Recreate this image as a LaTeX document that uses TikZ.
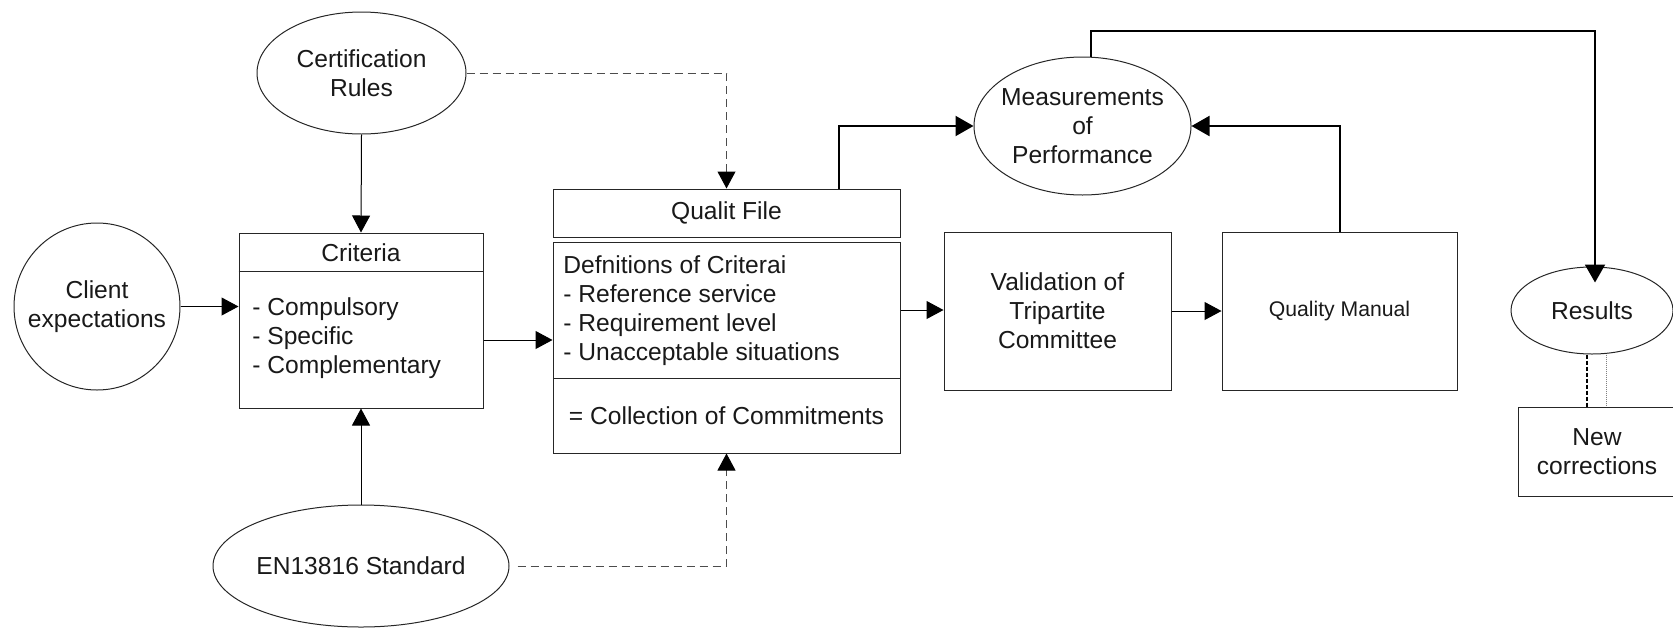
\documentclass[tikz,border=0pt]{standalone}
\usepackage{fontspec}
\setmainfont{Liberation Sans}
\usetikzlibrary{shapes.geometric,arrows.meta,calc}
\begin{document}
\begin{tikzpicture}[x=0.5pt,y=-0.5pt,
  font=\fontsize{12.3pt}{14.5pt}\selectfont,
  every node/.style={text=black!90},
  every label/.style={inner sep=0pt,align=center,text=black!90},
  oval/.style={draw=black!85,line width=0.5pt,ellipse,inner sep=0pt,align=center},
  box/.style={draw=black!85,line width=0.5pt,rectangle,inner sep=0pt,align=center},
  txt/.style={inner sep=0pt,align=left,anchor=west},
  arr/.style={line width=0.5pt,-{Triangle[length=8.5pt,width=9pt]}},
  thickarr/.style={line width=1pt,-{Triangle[length=9pt,width=10pt]}},
  dasharr/.style={line width=0.5pt,black!70,dash pattern=on 4pt off 2.5pt,-{Triangle[length=8.5pt,width=9pt,color=black,fill=black]}}
]
\useasboundingbox (0,0) rectangle (1673,627);

% inputs
\node[oval,minimum width=104.5pt,minimum height=61pt] (cert) at (361.5,73) {Certification\\Rules};
\node[oval,minimum width=83pt,minimum height=83.5pt,
      label={center:Client\\expectations}] (client) at (97,306.5) {};
\node[oval,minimum width=148pt,minimum height=61pt] (en) at (361,566) {EN13816 Standard};

% criteria box with header
\node[box,minimum width=122pt,minimum height=87.5pt] (crit) at (361,320.5) {};
\draw[black!85,line width=0.5pt] ($(crit.north west)+(0,39)$) -- ($(crit.north east)+(0,39)$);
\node[inner sep=0pt] (crithead) at (361,252.5) {Criteria};
\node[txt] (critlist) at (252,338.5) {- Compulsory\\- Specific\\- Complementary};

% quality file stack
\node[box,minimum width=173.5pt,minimum height=24pt] (qf) at (726.5,213) {Qualit File};
\node[box,minimum width=173.5pt,minimum height=68pt] (def) at (726.5,310) {};
\node[txt] (deflist) at (563,311) {Defnitions of Criterai\\- Reference service\\- Requirement level\\- Unacceptable situations};
\node[box,minimum width=173.5pt,minimum height=37.5pt] (col) at (726.5,415.5) {= Collection of Commitments};

% validation chain
\node[box,minimum width=113.5pt,minimum height=79pt] (val) at (1057.5,311) {Validation of\\Tripartite\\Committee};
\node[box,minimum width=117.5pt,minimum height=79pt,font=\fontsize{10.6pt}{13pt}\selectfont] (qm) at (1339.5,311) {Quality Manual};

% performance and results
\node[oval,minimum width=108.5pt,minimum height=69pt,
      label={center:Measurements\\of\\Performance}] (meas) at (1082.5,126) {};
\node[oval,minimum width=81pt,minimum height=43.5pt] (res) at (1592,310.5) {Results};
\node[box,minimum width=79pt,minimum height=44.5pt] (nc) at (1597,451.5) {New\\corrections};

% connectors
\draw[arr] (cert.south) -- (crit.north);
\draw[arr] (client.east) -- (client.east -| crit.west);
\draw[arr] (en.north) -- (crit.south);
\draw[arr] ($(crit.east)+(0,19.5)$) -- ($(def.west)+(0,30)$);
\draw[dasharr] (cert.east) -| (qf.north);
\draw[dasharr] ($(en.east)+(8,0)$) -| (col.south);
\draw[arr] (def.east) -- (def.east -| val.west);
\draw[arr] (val.east) -- (qm.west);
\draw[thickarr] ($(qf.north)+(112.5,0)$) |- (meas.west);
\draw[thickarr] (qm.north) |- (meas.east);
\draw[thickarr,shorten >=-8pt] ($(meas.north)+(8.5,0)$) -- ++(0,-26) -| ($(res.north)+(3,0)$);
\draw[line width=1pt,dash pattern=on 2pt off 1pt] ($(res.south)+(-5,0)$) -- ($(nc.north)+(-10,0)$);
\draw[line width=0.4pt,black!50,dash pattern=on 0.5pt off 0.5pt] ($(res.south)+(14,0)$) -- ($(nc.north)+(9,0)$);
\end{tikzpicture}
\end{document}
